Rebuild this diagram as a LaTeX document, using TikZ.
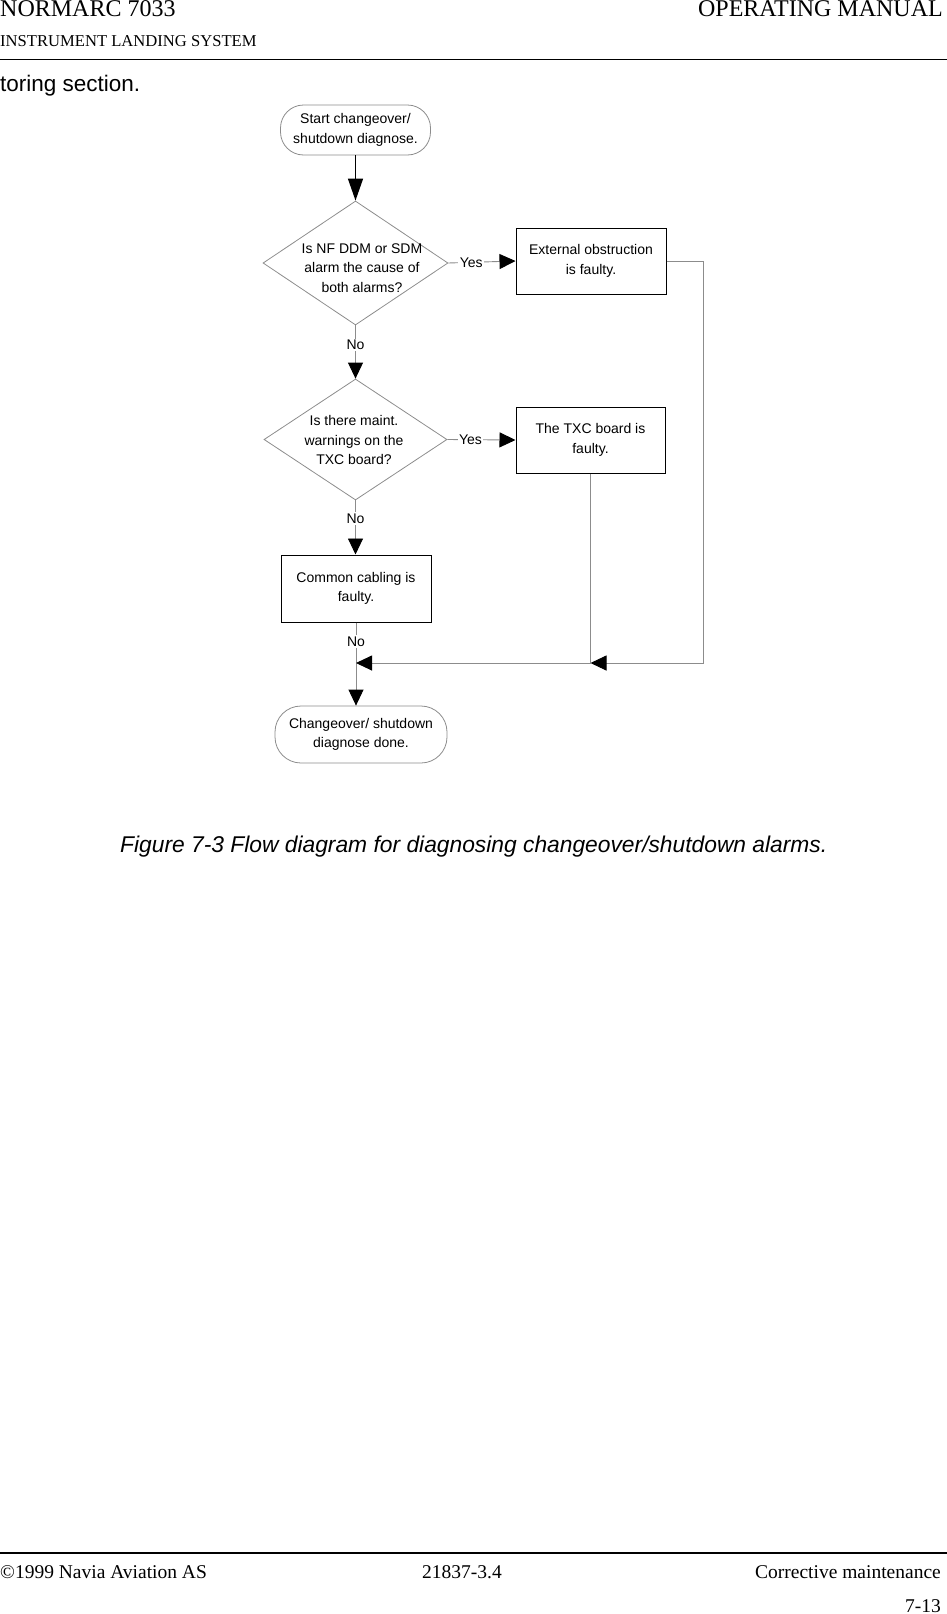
\documentclass[tikz,border=0pt]{standalone}
\usepackage{fontspec}
\setmainfont{Liberation Serif}
\setsansfont{Liberation Sans}
\usepackage{tikz}
\usetikzlibrary{positioning,arrows.meta,shapes.geometric}
\definecolor{linegray}{RGB}{140,140,140}
\newcommand{\diagfont}{\sffamily\fontsize{14}{19.5}\selectfont}

\begin{document}
\begin{tikzpicture}[x=1pt,y=-1pt,font=\diagfont,
  term/.style={draw=linegray,line width=0.8pt,rounded corners=23pt,minimum width=150pt,minimum height=50pt,align=center,inner sep=0pt},
  decision/.style={draw=linegray,line width=0.8pt,diamond,minimum width=185pt,minimum height=124pt,inner sep=0pt},
  qtext/.style={align=center,inner sep=0pt},
  procbox/.style={draw=black,line width=1pt,minimum width=150pt,minimum height=66pt,align=center,inner sep=0pt},
  flow/.style={draw=linegray,line width=0.9pt},
  arr/.style={-{Triangle[length=16pt,width=15pt,color=black]}},
  lbl/.style={fill=white,inner sep=1.5pt,font=\diagfont},
  hdr/.style={inner sep=0pt,font=\rmfamily\fontsize{24}{28}\selectfont},
  ftr/.style={inner sep=0pt,font=\rmfamily\fontsize{19.5}{23}\selectfont}]
\useasboundingbox (0,0) rectangle (947,1614);

\node[hdr,anchor=base west] (prod) at (0,16.5) {NORMARC 7033};
\node[hdr,anchor=base east] (manual) at (943,16.5) {OPERATING MANUAL};
\node[inner sep=0pt,anchor=base west,font=\rmfamily\fontsize{16.6}{19}\selectfont] (system) at (0,46.5) {INSTRUMENT LANDING SYSTEM};
\draw[line width=1.4pt] (0,59.3) -- (947,59.3);
\node[inner sep=0pt,anchor=base west,font=\sffamily\fontsize{22.5}{27}\selectfont] (prev) at (0,91) {toring section.};

\node[term] (start) at (355.5,130) {Start changeover/\\shutdown diagnose.};
\node[decision] (q1) at (355.5,263) {};
\node[qtext] (q1t) at (362,268) {Is NF DDM or SDM\\alarm the cause of\\both alarms?};
\node[procbox] (ext) at (591,261) {External obstruction\\is faulty.};
\node[decision,minimum width=183pt,minimum height=121pt] (q2) at (355.5,439.5) {};
\node[qtext] (q2t) at (354,440) {Is there maint.\\warnings on the\\TXC board?};
\node[procbox,minimum width=149pt] (txc) at (590.5,440) {The TXC board is\\faulty.};
\node[procbox,minimum height=67pt] (cab) at (356,588.5) {Common cabling is\\faulty.};
\node[term,minimum width=172pt,minimum height=57pt,rounded corners=26pt] (done) at (361,734.5) {Changeover/ shutdown\\diagnose done.};

\coordinate (jtxc) at (txc.south |- 0,663);
\coordinate (jcab) at (cab.south |- 0,663);

\draw[line width=1.3pt,-{Triangle[length=22pt,width=15pt]}] (start) -- (q1);
\draw[flow,arr] (q1.east) -- node[lbl,pos=0.34]{Yes} (ext.west);
\draw[flow,arr] (q1.south) -- node[lbl,pos=0.37]{No} (q2.north);
\draw[flow,arr] (q2.east) -- node[lbl,pos=0.34]{Yes} (txc.west);
\draw[flow,arr] (q2.south) -- node[lbl,pos=0.33]{No} (q2.south |- cab.north);
\draw[flow,arr] (cab.south) -- node[lbl,pos=0.23]{No} (cab.south |- done.north);
\draw[flow,arr] (ext.east) -- ++(37,0) |- (jtxc);
\draw[flow] (txc.south) -- (jtxc);
\draw[flow,arr] (jtxc) -- (jcab);

\node[inner sep=0pt,anchor=base west,font=\sffamily\itshape\fontsize{22.8}{27}\selectfont] (caption) at (120,852) {Figure 7-3 Flow diagram for diagnosing changeover/shutdown alarms.};

\draw[line width=1.4pt] (0,1553) -- (947,1553);
\node[ftr,anchor=base west] (copy) at (0,1578) {©1999 Navia Aviation AS};
\node[ftr,anchor=base] (docno) at (462,1578) {21837-3.4};
\node[ftr,anchor=base east] (chapter) at (941,1578) {Corrective maintenance};
\node[ftr,anchor=base east] (page) at (941,1612) {7-13};
\end{tikzpicture}
\end{document}
